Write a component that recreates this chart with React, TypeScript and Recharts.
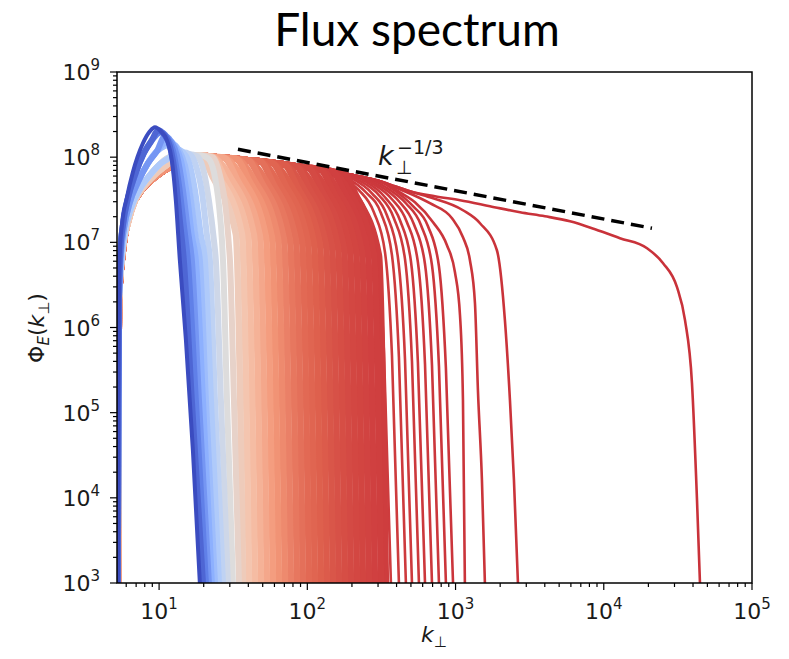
import React from "react";
import { LineChart, Line, XAxis, YAxis } from "recharts";

// Curves as [log10(k), log10(Phi)] pairs.

// rising branches on the left, earliest (blue) to latest (red)
const riseLog: [number, number][][] = [
  [[0.722, 3.0], [0.725, 5.147], [0.729, 6.32], [0.736, 6.907], [0.749, 7.201], [0.783, 7.529], [0.823, 7.823], [0.891, 8.163], [0.938, 8.304], [0.972, 8.351]],
  [[0.722, 3.0], [0.725, 5.147], [0.729, 6.32], [0.739, 6.907], [0.756, 7.201], [0.79, 7.518], [0.837, 7.788], [0.897, 8.046], [0.951, 8.198]],
  [[0.722, 3.0], [0.725, 5.147], [0.729, 6.32], [0.742, 6.849], [0.763, 7.166], [0.803, 7.471], [0.857, 7.705], [0.924, 7.928], [0.985, 8.069]],
  [[0.722, 3.0], [0.725, 5.147], [0.729, 6.32], [0.746, 6.79], [0.769, 7.119], [0.81, 7.4], [0.87, 7.623], [0.938, 7.788], [1.005, 7.917], [1.073, 7.999]],
  [[0.722, 3.0], [0.725, 5.147], [0.729, 6.32], [0.749, 6.849], [0.79, 7.236], [0.837, 7.494], [0.904, 7.67], [0.972, 7.799], [1.039, 7.893], [1.113, 7.987], [1.188, 8.022]],
  [[0.722, 3.0], [0.725, 5.147], [0.729, 6.32], [0.756, 6.907], [0.803, 7.342], [0.87, 7.588], [0.938, 7.717], [1.005, 7.811], [1.059, 7.87], [1.12, 7.964], [1.188, 8.022]],
];

// common upper plateau followed by the late spectra
const envelopeLog: [number, number][] = [
  [1.275, 8.022], [1.356, 8.005], [1.437, 7.993], [1.518, 7.981], [1.599, 7.964],
  [1.68, 7.952], [1.761, 7.934], [1.842, 7.917], [1.923, 7.893], [2.004, 7.876],
  [2.085, 7.858], [2.166, 7.835], [2.247, 7.811], [2.328, 7.782], [2.409, 7.752],
  [2.49, 7.717], [2.591, 7.659], [2.692, 7.6], [2.861, 7.541], [3.03, 7.494],
  [3.232, 7.424], [3.435, 7.353], [3.603, 7.306], [3.772, 7.248], [3.941, 7.154],
  [4.109, 7.048],
];

// early snapshots: peak + steep fall
const earlyRiseIdx = [0, 1, 1, 2, 2, 2, 3, 3, 3, 3, 3];
const earlyPhase = [0, 0.06, 0.12, 0.18, 0.25, 0.3, 0.35, 0.4, 0.45, 0.5, 0.55];
const earlyTailsLog: [number, number][][] = [
  [[1.012, 8.304], [1.053, 8.198], [1.086, 7.964], [1.113, 7.494], [1.14, 6.79], [1.181, 5.851], [1.228, 4.56], [1.275, 3.0]],
  [[0.992, 8.316], [1.032, 8.269], [1.073, 8.128], [1.113, 7.729], [1.14, 7.259], [1.167, 6.79], [1.221, 5.147], [1.296, 3.0]],
  [[1.012, 8.292], [1.053, 8.234], [1.093, 8.081], [1.134, 7.67], [1.167, 7.201], [1.194, 6.79], [1.248, 5.147], [1.316, 3.0]],
  [[1.039, 8.245], [1.08, 8.187], [1.12, 8.022], [1.161, 7.611], [1.194, 7.142], [1.221, 6.79], [1.269, 5.147], [1.336, 3.0]],
  [[1.066, 8.198], [1.107, 8.128], [1.147, 7.964], [1.188, 7.553], [1.221, 7.083], [1.248, 6.79], [1.296, 5.147], [1.356, 3.0]],
  [[1.093, 8.151], [1.134, 8.081], [1.174, 7.905], [1.215, 7.494], [1.248, 7.048], [1.275, 6.79], [1.316, 5.147], [1.377, 3.0]],
  [[1.12, 8.093], [1.161, 8.058], [1.201, 7.94], [1.242, 7.611], [1.282, 7.083], [1.309, 6.79], [1.35, 5.147], [1.404, 3.0]],
  [[1.161, 8.058], [1.208, 8.034], [1.248, 7.905], [1.289, 7.588], [1.323, 7.083], [1.343, 6.79], [1.377, 5.147], [1.431, 3.0]],
  [[1.208, 8.034], [1.255, 8.011], [1.296, 7.87], [1.336, 7.494], [1.37, 7.025], [1.383, 6.79], [1.417, 5.147], [1.464, 3.0]],
  [[1.275, 8.022], [1.329, 7.987], [1.37, 7.823], [1.404, 7.435], [1.424, 7.025], [1.431, 6.79], [1.458, 5.147], [1.498, 3.0]],
  [[1.275, 8.022], [1.363, 7.999], [1.41, 7.788], [1.451, 7.377], [1.471, 6.966], [1.478, 6.79], [1.505, 5.147], [1.539, 3.0]],
];

// middle snapshots: knee off the plateau, then cutoff
const latePhase = [0.59, 0.62, 0.65, 0.68, 0.71, 0.74, 0.765, 0.785, 0.805, 0.825, 0.84, 0.855, 0.865, 0.875, 0.882, 0.889, 0.895, 0.9, 0.905, 0.909, 0.912, 0.915, 0.918, 0.92, 0.922];
const lateTailsLog: [number, number][][] = [
  [[1.363, 7.764], [1.518, 7.095], [1.566, 3]],
  [[1.404, 7.764], [1.559, 7.095], [1.606, 3]],
  [[1.444, 7.752], [1.599, 7.083], [1.646, 3]],
  [[1.485, 7.752], [1.64, 7.083], [1.687, 3]],
  [[1.525, 7.741], [1.68, 7.072], [1.727, 3]],
  [[1.566, 7.741], [1.721, 7.06], [1.768, 3]],
  [[1.606, 7.729], [1.761, 7.06], [1.808, 3]],
  [[1.646, 7.717], [1.802, 7.048], [1.849, 3]],
  [[1.687, 7.717], [1.842, 7.036], [1.889, 3]],
  [[1.727, 7.705], [1.883, 7.025], [1.93, 3]],
  [[1.768, 7.694], [1.923, 7.025], [1.97, 3]],
  [[1.808, 7.682], [1.964, 7.013], [2.011, 3]],
  [[1.849, 7.682], [2.004, 7.001], [2.051, 3]],
  [[1.889, 7.67], [2.045, 6.989], [2.092, 3]],
  [[1.93, 7.659], [2.085, 6.978], [2.132, 3]],
  [[1.97, 7.647], [2.126, 6.966], [2.173, 3]],
  [[2.011, 7.635], [2.166, 6.954], [2.213, 3]],
  [[2.051, 7.635], [2.207, 6.943], [2.254, 3]],
  [[2.092, 7.623], [2.247, 6.931], [2.294, 3]],
  [[2.132, 7.612], [2.287, 6.919], [2.335, 3]],
  [[2.173, 7.6], [2.328, 6.907], [2.375, 3]],
  [[2.213, 7.588], [2.368, 6.896], [2.416, 3]],
  [[2.254, 7.576], [2.409, 6.872], [2.456, 3]],
  [[2.294, 7.565], [2.449, 6.86], [2.497, 3]],
  [[2.328, 7.553], [2.483, 6.849], [2.53, 3]],
];

// last snapshots, drawn as separate lines
const finalPhase = [0.924, 0.925, 0.926, 0.927, 0.928, 0.929, 0.93, 0.931, 0.932, 0.933, 0.934, 0.935, 0.936, 0.937];
const finalTailsLog: [number, number][][] = [
  [[2.159, 7.788], [2.294, 7.635], [2.395, 7.377], [2.47, 6.907], [2.517, 5.71], [2.564, 3.0]],
  [[2.213, 7.776], [2.348, 7.612], [2.449, 7.353], [2.524, 6.884], [2.571, 5.675], [2.618, 3.0]],
  [[2.261, 7.764], [2.395, 7.588], [2.497, 7.342], [2.571, 6.849], [2.618, 5.651], [2.665, 3.0]],
  [[2.301, 7.752], [2.436, 7.576], [2.537, 7.318], [2.611, 6.825], [2.659, 5.628], [2.706, 3.0]],
  [[2.348, 7.729], [2.483, 7.553], [2.584, 7.283], [2.659, 6.802], [2.706, 5.604], [2.753, 3.0]],
  [[2.389, 7.717], [2.524, 7.529], [2.625, 7.259], [2.699, 6.778], [2.746, 5.593], [2.794, 3.0]],
  [[2.436, 7.694], [2.571, 7.506], [2.672, 7.236], [2.746, 6.766], [2.794, 5.569], [2.841, 3.0]],
  [[2.483, 7.67], [2.618, 7.482], [2.719, 7.212], [2.794, 6.743], [2.841, 5.558], [2.888, 3.0]],
  [[2.53, 7.647], [2.665, 7.459], [2.767, 7.201], [2.841, 6.731], [2.888, 5.546], [2.935, 3.0]],
  [[2.578, 7.623], [2.713, 7.424], [2.814, 7.189], [2.888, 6.719], [2.935, 5.522], [2.983, 3.0]],
  [[2.625, 7.588], [2.726, 7.471], [2.848, 7.236], [2.942, 6.966], [2.996, 6.649], [3.03, 6.144], [3.05, 5.147], [3.063, 3.0]],
  [[2.625, 7.623], [2.827, 7.459], [2.976, 7.283], [3.05, 7.06], [3.097, 6.79], [3.131, 6.285], [3.151, 5.264], [3.178, 4.208], [3.198, 3.0]],
  [[2.827, 7.529], [3.05, 7.377], [3.165, 7.224], [3.279, 6.907], [3.333, 6.086], [3.367, 5.147], [3.394, 4.208], [3.421, 3.0]],
  [[4.292, 6.931], [4.4, 6.755], [4.494, 6.473], [4.548, 6.086], [4.595, 5.346], [4.629, 3.973], [4.649, 3.0]],
];

// k^(-1/3) guide line end points
const guideLog: [number, number][] = [[1.532, 8.093], [4.325, 7.166]];

const xMajors = [10, 100, 1000, 10000, 100000];
const yMajors = [1e3, 1e4, 1e5, 1e6, 1e7, 1e8, 1e9];
const minorSteps = [2, 3, 4, 5, 6, 7, 8, 9];

const xTicks = [6, 7, 8, 9, ...xMajors.flatMap((m) => (m < 100000 ? [m, ...minorSteps.map((s) => m * s)] : [m]))];
const yTicks = yMajors.flatMap((m) => (m < 1e9 ? [m, ...minorSteps.map((s) => m * s)] : [m]));

const coolwarmStops = [
  [59, 76, 192], [98, 130, 234], [141, 176, 254], [184, 208, 249], [221, 220, 220],
  [245, 196, 173], [244, 154, 123], [222, 96, 77], [180, 4, 38],
];

function coolwarm(t: number) {
  const s = Math.max(0, Math.min(1, t)) * 8;
  const i = Math.min(7, Math.floor(s));
  const f = s - i;
  const a = coolwarmStops[i];
  const b = coolwarmStops[i + 1];
  const c = a.map((v, j) => Math.round(v + (b[j] - v) * f));
  return `rgb(${c[0]},${c[1]},${c[2]})`;
}

const toData = (pts: [number, number][]) => pts.map(([a, b]) => ({ k: 10 ** a, phi: 10 ** b }));

type Curve = { id: string; pts: [number, number][]; phase: number; width: number };

const alongEnvelope = (rise: [number, number][], tail: [number, number][]) => [
  ...rise,
  ...envelopeLog.filter(([a]) => a < tail[0][0] - 0.08),
  ...tail,
];

const curves: Curve[] = [];
earlyTailsLog.forEach((tail, i) =>
  curves.push({ id: `e${i}`, pts: [...riseLog[earlyRiseIdx[i]], ...tail], phase: earlyPhase[i], width: i === 0 ? 4 : 6 })
);
lateTailsLog.forEach((tail, i) =>
  curves.push({
    id: `l${i}`,
    pts: alongEnvelope(riseLog[latePhase[i] < 0.75 ? 4 : 5], tail),
    phase: latePhase[i],
    width: 6.5,
  })
);
finalTailsLog.forEach((tail, i) =>
  curves.push({ id: `f${i}`, pts: alongEnvelope(riseLog[5], tail), phase: finalPhase[i], width: 2.6 })
);
// later spectra underneath, earliest on top
curves.sort((p, q) => q.phase - p.phase);

const TICK_FONT = "'DejaVu Sans', sans-serif";

const XTick = (props: any) => {
  const { x, y, payload } = props;
  const v = payload.value as number;
  const e = Math.round(Math.log10(v));
  const major = Math.abs(v - 10 ** e) < 1e-6 * v;
  return (
    <g>
      <line x1={x} x2={x} y1={y} y2={y + (major ? 7 : 4)} stroke="#000" strokeWidth={1.2} />
      {major && (
        <text x={x} y={y + 36} textAnchor="middle" fontFamily={TICK_FONT} fontSize={22} fill="#1a1a1a">
          10<tspan dy={-10} fontSize={15}>{e}</tspan>
        </text>
      )}
    </g>
  );
};

const YTick = (props: any) => {
  const { x, y, payload } = props;
  const v = payload.value as number;
  const e = Math.round(Math.log10(v));
  const major = Math.abs(v - 10 ** e) < 1e-6 * v;
  return (
    <g>
      <line x1={x - (major ? 7 : 4)} x2={x} y1={y} y2={y} stroke="#000" strokeWidth={1.2} />
      {major && (
        <text x={x - 17} y={y + 8} textAnchor="end" fontFamily={TICK_FONT} fontSize={22} fill="#1a1a1a">
          10<tspan dy={-10} fontSize={15}>{e}</tspan>
        </text>
      )}
    </g>
  );
};

export default function App() {
  return (
    <div style={{ position: "absolute", left: 0, top: 0, width: 789, height: 659, background: "#fff", overflow: "hidden" }}>
      <LineChart width={789} height={659} margin={{ top: 72, right: 37, bottom: 26, left: 17 }}>
        <XAxis
          type="number"
          dataKey="k"
          scale="log"
          domain={[5.2, 100000]}
          allowDataOverflow
          ticks={xTicks}
          interval={0}
          tick={<XTick />}
          tickLine={false}
          axisLine={false}
          tickSize={0}
          tickMargin={0}
          height={50}
        />
        <YAxis
          type="number"
          dataKey="phi"
          scale="log"
          domain={[1000, 1e9]}
          allowDataOverflow
          ticks={yTicks}
          interval={0}
          tick={<YTick />}
          tickLine={false}
          axisLine={false}
          tickSize={0}
          tickMargin={0}
          width={100}
        />
        {curves.map((c) => (
          <Line
            key={c.id}
            data={toData(c.pts)}
            dataKey="phi"
            type="monotone"
            stroke={coolwarm(c.phase)}
            strokeWidth={c.width}
            dot={false}
            activeDot={false}
            isAnimationActive={false}
          />
        ))}
        <Line
          data={toData(guideLog)}
          dataKey="phi"
          type="linear"
          stroke="#000"
          strokeWidth={3.5}
          strokeDasharray="13 7"
          dot={false}
          activeDot={false}
          isAnimationActive={false}
        />
      </LineChart>
      <svg width={789} height={659} style={{ position: "absolute", left: 0, top: 0, pointerEvents: "none" }}>
        <rect x={117} y={72} width={635} height={511} fill="none" stroke="#000" strokeWidth={1.5} />
        <text x={417} y={46} textAnchor="middle" fontFamily="Lato, 'Open Sans', sans-serif" fontSize={46} fill="#000">
          Flux spectrum
        </text>
        <text x={434} y={642} textAnchor="middle" fontFamily={TICK_FONT} fontSize={22} fill="#1a1a1a">
          <tspan fontStyle="italic">k</tspan>
          <tspan fontSize={15} dy={5}>⊥</tspan>
        </text>
        <text transform="translate(44,328) rotate(-90)" textAnchor="middle" fontFamily={TICK_FONT} fontSize={22} fill="#1a1a1a">
          Φ<tspan fontSize={15} fontStyle="italic" dy={5}>E</tspan>
          <tspan dy={-5}>(</tspan>
          <tspan fontStyle="italic">k</tspan>
          <tspan fontSize={15} dy={5}>⊥</tspan>
          <tspan dy={-5}>)</tspan>
        </text>
        <text x={378} y={165} fontFamily={TICK_FONT} fontSize={27} fill="#1a1a1a">
          <tspan fontStyle="italic">k</tspan>
          <tspan x={396} y={174} fontSize={19}>⊥</tspan>
          <tspan x={397} y={154} fontSize={19}>−1/3</tspan>
        </text>
      </svg>
    </div>
  );
}
